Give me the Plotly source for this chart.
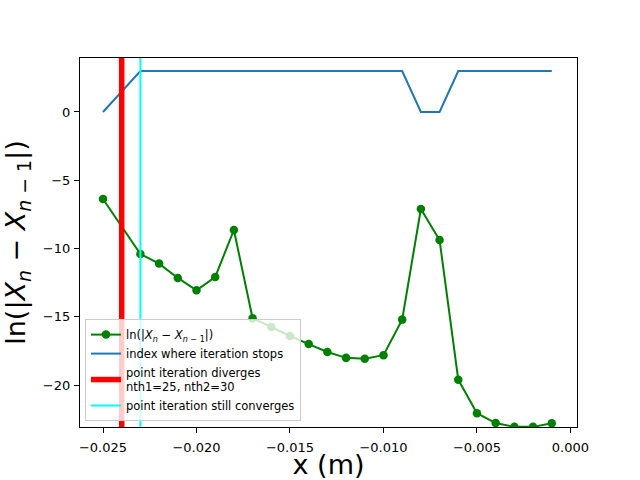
import plotly.graph_objects as go

# Data
x_conv = [-0.025, -0.023, -0.022, -0.021, -0.020, -0.019, -0.018, -0.017, -0.016,
          -0.015, -0.014, -0.013, -0.012, -0.011, -0.010, -0.009, -0.008, -0.007,
          -0.006, -0.005, -0.004, -0.003, -0.002, -0.001]
ln_diff = [-6.37, -10.4, -11.1, -12.15, -13.05, -12.08, -8.64, -15.1, -15.74,
           -16.4, -16.99, -17.57, -18.0, -18.07, -17.8, -15.2, -7.1, -9.37,
           -19.6, -22.05, -22.77, -23.05, -23.05, -22.78]
stop_index = [0, 3, 3, 3, 3, 3, 3, 3, 3,
              3, 3, 3, 3, 3, 3, 3, 0, 0,
              3, 3, 3, 3, 3, 3]
x_diverge = -0.024
x_still_conv = -0.023

y_range = [-23.06, 3.95]
x_range = [-0.02623, 0.00035]

math_label = "ln(|<i>X</i><sub><i>n</i></sub> − <i>X</i><sub><i>n</i> − 1</sub>|)"

fig = go.Figure()
fig.add_trace(go.Scatter(
    x=x_conv, y=ln_diff, mode="lines+markers", name=math_label,
    line=dict(color="green", width=2), marker=dict(color="green", size=8.5),
))
fig.add_trace(go.Scatter(
    x=x_conv, y=stop_index, mode="lines", name="index where iteration stops",
    line=dict(color="#1f77b4", width=2),
))
fig.add_trace(go.Scatter(
    x=[x_diverge, x_diverge], y=y_range, mode="lines",
    name="point iteration diverges<br>nth1=25, nth2=30",
    line=dict(color="red", width=5.5),
))
fig.add_trace(go.Scatter(
    x=[x_still_conv, x_still_conv], y=y_range, mode="lines",
    name="point iteration still converges",
    line=dict(color="cyan", width=2),
))

axis_common = dict(
    showline=True, linecolor="black", linewidth=1.2, mirror=True,
    ticks="outside", ticklen=5, tickwidth=1, tickcolor="black",
    showgrid=False, zeroline=False, automargin=False,
    tickfont=dict(family="DejaVu Sans", size=13, color="black"),
)

fig.update_layout(
    width=640, height=480,
    margin=dict(l=80, r=63, t=58, b=53),
    paper_bgcolor="white", plot_bgcolor="white",
    font=dict(family="DejaVu Sans", color="black"),
    showlegend=True,
    legend=dict(
        x=0.01, y=0.016, xanchor="left", yanchor="bottom",
        bgcolor="rgba(255,255,255,0.8)", bordercolor="#cccccc", borderwidth=1,
        font=dict(family="DejaVu Sans", size=11.5, color="black"),
        tracegroupgap=0, itemwidth=30,
    ),
    xaxis=dict(
        range=x_range, tickvals=[-0.025, -0.020, -0.015, -0.010, -0.005, 0.0],
        tickformat=".3f", ticklabelstandoff=3,
        title=dict(text="x (m)", font=dict(family="DejaVu Sans", size=27), standoff=4),
        **axis_common,
    ),
    yaxis=dict(
        range=y_range, tickvals=[0, -5, -10, -15, -20],
        ticklabelstandoff=1,
        title=dict(text=math_label, font=dict(family="DejaVu Sans", size=27), standoff=10),
        **axis_common,
    ),
)

fig.write_html(
    "out.html",
    config={"responsive": False, "displayModeBar": False},
    post_script="document.body.style.margin='0';document.body.style.overflow='hidden';",
)
